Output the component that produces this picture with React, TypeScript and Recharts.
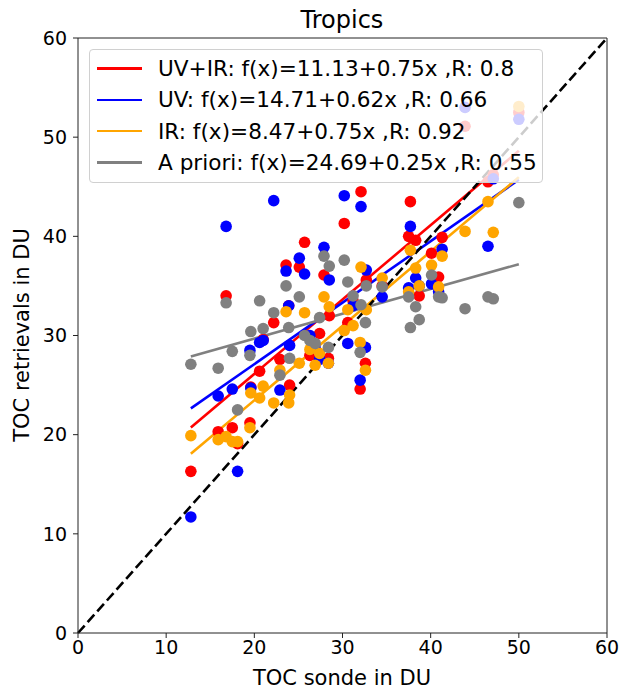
import React from "react"
import { ScatterChart, Scatter, XAxis, YAxis, ReferenceLine } from "recharts"

// TOC sonde values (x) shared by every retrieval series
const sonde = [
  12.8, 15.9, 16.8, 17.5, 18.1, 19.5, 19.6, 20.6, 21.0, 22.2, 22.9, 23.6, 23.9, 24.0,
  25.1, 25.7, 26.3, 26.9, 27.4, 27.9, 28.5, 28.4, 30.2, 30.6, 31.2, 32.0, 32.1, 32.6,
  32.7, 34.5, 37.7, 37.5, 38.3, 38.7, 40.1, 40.9, 41.3, 43.9, 46.5, 47.1, 50.0,
]
const uvir = [
  16.3, 20.3, 34.0, 20.7, 19.1, 21.2, 24.8, 26.4, 29.6, 31.3, 27.6, 37.1, 33.0, 25.0,
  36.9, 39.4, 28.0, 28.5, 30.2, 36.1, 32.0, 27.7, 41.3, 31.3, 33.5, 24.6, 44.5, 27.2,
  35.6, 35.0, 43.5, 40.0, 39.6, 34.0, 38.3, 35.9, 39.9, 51.1, 45.5, 46.2, 52.5,
]
const uv = [
  11.7, 23.9, 41.0, 24.6, 16.3, 28.5, 24.7, 29.3, 29.5, 43.6, 24.5, 36.5, 33.0, 29.0,
  37.8, 36.2, 30.0, 28.7, 27.6, 38.9, 35.6, 27.2, 44.1, 29.2, 33.0, 25.5, 43.0, 28.8,
  36.6, 33.9, 41.0, 34.8, 35.8, 35.0, 35.2, 34.4, 38.7, 53.0, 39.0, 45.8, 51.8,
]
const ir = [
  19.9, 19.5, 19.8, 19.3, 19.3, 20.7, 24.2, 23.7, 24.9, 23.2, 26.5, 32.4, 23.2, 24.0,
  27.2, 32.3, 28.6, 27.0, 28.2, 33.9, 32.9, 27.2, 30.5, 32.6, 31.0, 29.3, 36.9, 26.5,
  32.6, 35.8, 38.6, 34.4, 36.8, 35.0, 37.1, 34.9, 38.0, 40.5, 43.5, 40.4, 53.1,
]
const apriori = [
  27.1, 26.7, 33.3, 28.4, 22.5, 28.0, 30.4, 33.5, 30.7, 32.3, 26.0, 35.0, 30.8, 27.7,
  33.9, 30.0, 29.5, 29.2, 31.8, 38.0, 37.0, 28.8, 37.6, 35.4, 34.0, 28.3, 33.1, 31.3,
  35.0, 34.9, 30.8, 33.9, 32.9, 31.6, 36.1, 33.9, 33.8, 32.7, 33.9, 33.7, 43.4,
]

const ticks = [0, 10, 20, 30, 40, 50, 60]

const series = [
  { name: "UV+IR", values: uvir, a: 11.13, b: 0.75, r: "0.8", color: "#ff0000" },
  { name: "UV", values: uv, a: 14.71, b: 0.62, r: "0.66", color: "#0000ff" },
  { name: "IR", values: ir, a: 8.47, b: 0.75, r: "0.92", color: "#ffa500" },
  { name: "A priori", values: apriori, a: 24.69, b: 0.25, r: "0.55", color: "#808080" },
]

const FONT = "'DejaVu Sans', sans-serif"
const xMin = Math.min(...sonde)
const xMax = Math.max(...sonde)

const dot = (color: string) => (props: any) =>
  <circle cx={props.cx} cy={props.cy} r={5.8} fill={color} />

export default function App() {
  const tickStyle = { fontSize: 19, fill: "#000", fontFamily: FONT }
  return (
    <div style={{ position: "absolute", left: 0, top: 0, width: 622, height: 692, background: "#fff" }}>
      <ScatterChart width={622} height={692} margin={{ top: 38, right: 15, bottom: 0, left: 0 }}>
        <XAxis
          type="number"
          dataKey="x"
          domain={[0, 60]}
          ticks={ticks}
          height={59}
          tickSize={5}
          tickMargin={3}
          stroke="#222"
          tick={tickStyle}
          allowDataOverflow
        />
        <YAxis
          type="number"
          dataKey="y"
          domain={[0, 60]}
          ticks={ticks}
          width={78}
          tickSize={5}
          tickMargin={6}
          stroke="#222"
          tick={tickStyle}
          allowDataOverflow
        />
        <ReferenceLine y={60} stroke="#222" />
        <ReferenceLine x={60} stroke="#222" />
        {series.map((s) => (
          <Scatter
            key={s.name}
            data={sonde.map((x, i) => ({ x, y: s.values[i] }))}
            shape={dot(s.color)}
            isAnimationActive={false}
          />
        ))}
        {series.map((s) => (
          <ReferenceLine
            key={s.name + "-fit"}
            segment={[
              { x: xMin, y: s.a + s.b * xMin },
              { x: xMax, y: s.a + s.b * xMax },
            ]}
            stroke={s.color}
            strokeWidth={2.6}
          />
        ))}
        <ReferenceLine
          segment={[{ x: 0, y: 0 }, { x: 60, y: 60 }]}
          stroke="#000"
          strokeWidth={2.6}
          strokeDasharray="10 4.5"
        />
      </ScatterChart>

      <svg width={622} height={692} style={{ position: "absolute", left: 0, top: 0, pointerEvents: "none" }}>
        <text x={342} y={20} textAnchor="middle" dominantBaseline="central" fontSize={24} fontFamily={FONT}>
          Tropics
        </text>
        <text x={342} y={678} textAnchor="middle" dominantBaseline="central" fontSize={21} fontFamily={FONT}>
          TOC sonde in DU
        </text>
        <text
          x={22}
          y={335}
          textAnchor="middle"
          dominantBaseline="central"
          fontSize={21}
          fontFamily={FONT}
          transform="rotate(-90 22 335)"
        >
          TOC retrievals in DU
        </text>
      </svg>

      <div
        style={{
          position: "absolute",
          left: 89,
          top: 49,
          width: 452,
          height: 132,
          background: "rgba(255,255,255,0.8)",
          border: "1px solid #d0d0d0",
          borderRadius: 4,
          fontFamily: FONT,
          fontSize: 21.6,
        }}
      >
        {series.map((s, i) => (
          <div
            key={s.name}
            style={{ position: "absolute", left: 0, top: 3 + i * 31.3, height: 31, display: "flex", alignItems: "center", whiteSpace: "nowrap" }}
          >
            <span style={{ display: "inline-block", width: 45, height: 2.6, background: s.color, marginLeft: 7, marginRight: 16 }} />
            <span>{`${s.name}: f(x)=${s.a.toFixed(2)}+${s.b.toFixed(2)}x ,R: ${s.r}`}</span>
          </div>
        ))}
      </div>
    </div>
  )
}
